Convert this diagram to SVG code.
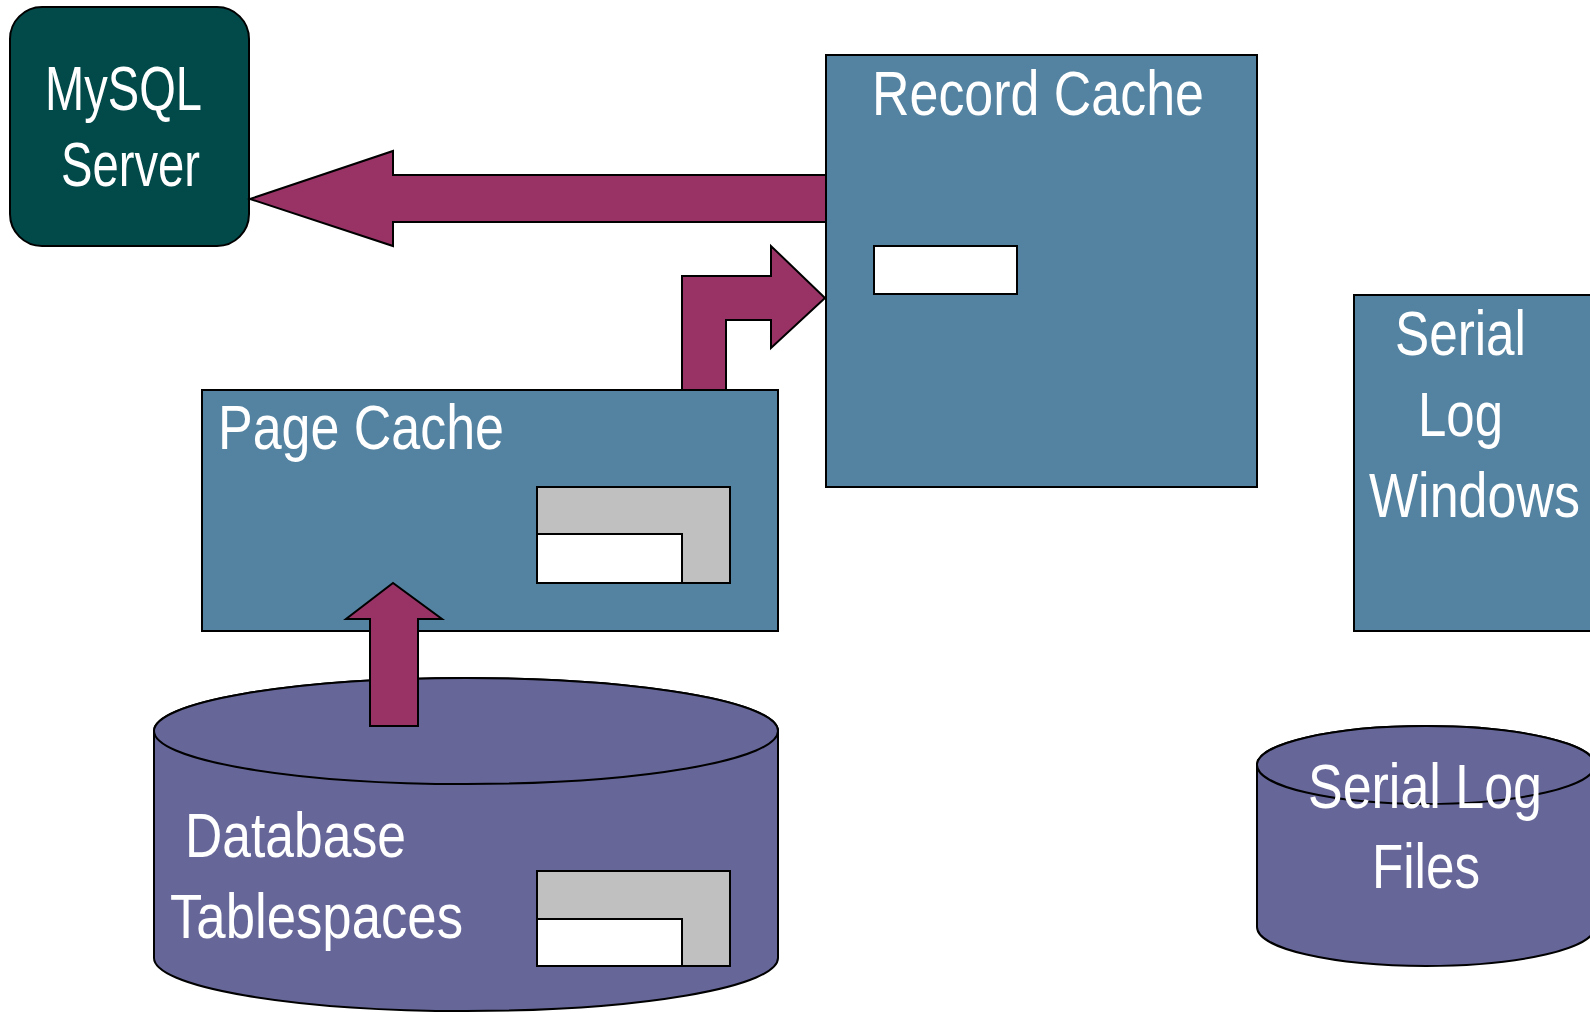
<svg xmlns="http://www.w3.org/2000/svg" width="1590" height="1013" viewBox="0 0 1590 1013">
  <style>
    .box { fill: #5383a1; stroke: #000; stroke-width: 2; }
    .server { fill: #024a4a; stroke: #000; stroke-width: 2; }
    .drum { fill: #666699; stroke: #000; stroke-width: 2; }
    .arrow { fill: #993366; stroke: #000; stroke-width: 2; stroke-linejoin: miter; }
    .slot { fill: #ffffff; stroke: #000; stroke-width: 2; }
    .grey { fill: #c0c0c0; stroke: #000; stroke-width: 2; }
    .label { fill: #ffffff; font-family: "Liberation Sans", Arial, sans-serif; font-size: 63px; }
  </style>

  <rect width="1590" height="1013" fill="#ffffff"/>

  <!-- Database tablespaces drum -->
  <g id="database-tablespaces">
    <path class="drum" d="M154,731 L154,958 A312,53 0 0 0 778,958 L778,731 A312,53 0 0 0 154,731 Z"/>
    <ellipse class="drum" cx="466" cy="731" rx="312" ry="53"/>
    <text class="label" x="185" y="857" textLength="221" lengthAdjust="spacingAndGlyphs">Database</text>
    <text class="label" x="170" y="938" textLength="293" lengthAdjust="spacingAndGlyphs">Tablespaces</text>
    <rect class="grey" x="537" y="871" width="193" height="95"/>
    <rect class="slot" x="537" y="919" width="145" height="47"/>
  </g>

  <!-- Serial log files drum -->
  <g id="serial-log-files">
    <path class="drum" d="M1257,765 L1257,927 A169,39 0 0 0 1595,927 L1595,765 A169,39 0 0 0 1257,765 Z"/>
    <ellipse class="drum" cx="1426" cy="765" rx="169" ry="39"/>
    <text class="label" x="1308" y="808" textLength="234" lengthAdjust="spacingAndGlyphs">Serial Log</text>
    <text class="label" x="1372" y="888" textLength="108" lengthAdjust="spacingAndGlyphs">Files</text>
  </g>

  <!-- Serial log windows -->
  <g id="serial-log-windows">
    <rect class="box" x="1354" y="295" width="250" height="336"/>
    <text class="label" x="1395" y="355" textLength="131" lengthAdjust="spacingAndGlyphs">Serial</text>
    <text class="label" x="1418" y="436" textLength="85" lengthAdjust="spacingAndGlyphs">Log</text>
    <text class="label" x="1369" y="517" textLength="211" lengthAdjust="spacingAndGlyphs">Windows</text>
  </g>

  <!-- MySQL server -->
  <g id="mysql-server">
    <rect class="server" x="10" y="7" width="239" height="239" rx="32" ry="32"/>
    <text class="label" x="45" y="110" textLength="157" lengthAdjust="spacingAndGlyphs">MySQL</text>
    <text class="label" x="61" y="186" textLength="139" lengthAdjust="spacingAndGlyphs">Server</text>
  </g>

  <!-- Block arrows between the caches -->
  <g id="connectors">
    <polygon class="arrow" points="250,199 393,151 393,175 826,175 826,222 393,222 393,246"/>
    <polygon class="arrow" points="682,390 682,276 771,276 771,246 825,298 771,348 771,320 726,320 726,390"/>
  </g>

  <!-- Record cache -->
  <g id="record-cache">
    <rect class="box" x="826" y="55" width="431" height="432"/>
    <text class="label" x="872" y="115" textLength="332" lengthAdjust="spacingAndGlyphs">Record Cache</text>
    <rect class="slot" x="874" y="246" width="143" height="48"/>
  </g>

  <!-- Page cache -->
  <g id="page-cache">
    <rect class="box" x="202" y="390" width="576" height="241"/>
    <text class="label" x="218" y="449" textLength="286" lengthAdjust="spacingAndGlyphs">Page Cache</text>
    <rect class="grey" x="537" y="487" width="193" height="96"/>
    <rect class="slot" x="537" y="534" width="145" height="49"/>
  </g>

  <!-- Read arrow from tablespaces up into the page cache -->
  <g id="connectors-read">
    <polygon class="arrow" points="370,726 370,619 346,619 393,583 442,619 418,619 418,726"/>
  </g>
</svg>
